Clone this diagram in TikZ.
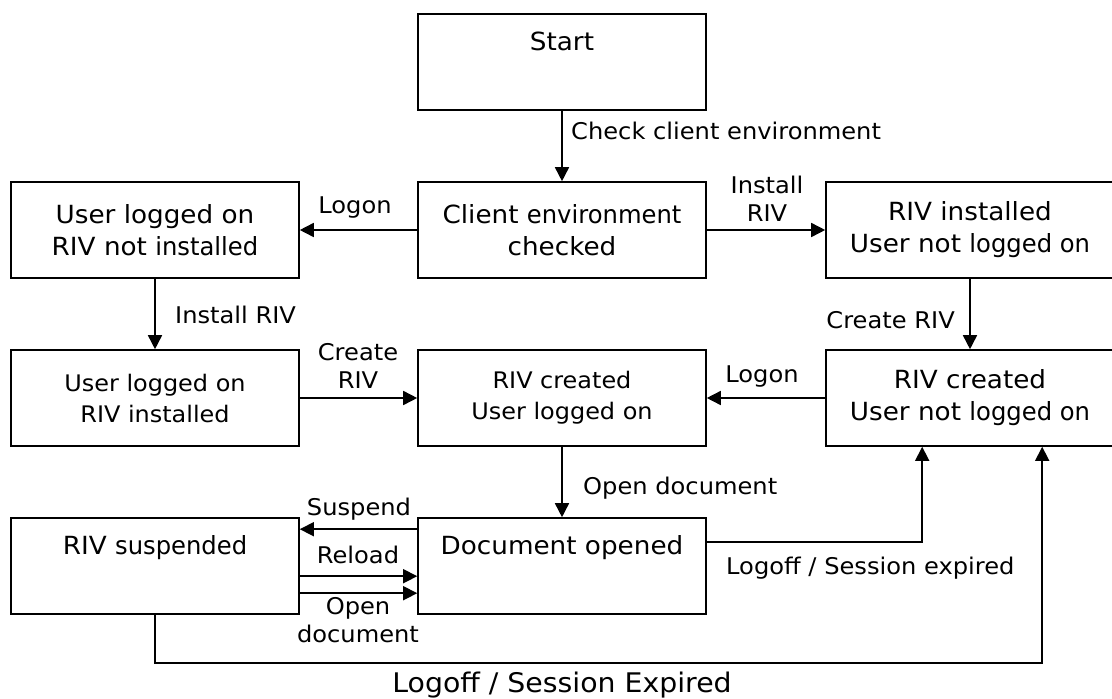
\documentclass[tikz,border=0pt]{standalone}
\usepackage{fontspec}
\setmainfont{DejaVu Sans}[FakeStretch=1.05]
\newfontfamily\narrowf{DejaVu Sans}[FakeStretch=0.97]
\usetikzlibrary{arrows.meta}

\tikzset{
  state/.style={draw, line width=1.6pt, minimum width=288pt, minimum height=96pt,
    align=center, inner sep=0pt, font=\fontsize{25}{32}\selectfont},
  smallstate/.style={state, font=\fontsize{22.8}{31}\selectfont},
  lbl/.style={inner sep=0pt, align=center, font=\fontsize{23}{28}\selectfont},
  arr/.style={line width=1.6pt, -{Triangle[length=14pt,width=14pt]}}
}

\begin{document}
\begin{tikzpicture}[x=1pt,y=-1pt]
\useasboundingbox (0,0) rectangle (1112,699);

\node[state] (start) at (562,62) {Start\\ \strut};
\node[state] (check) at (562,230) {Client {\narrowf environment}\\checked};
\node[state] (uno) at (155,230) {User logged on\\RIV not {\narrowf installed}};
\node[state] (inst) at (970,230) {RIV installed\\User not {\narrowf logged on}};

\node[smallstate] (ui) at (155,398) {User logged on\\RIV installed};
\node[smallstate] (created) at (562,398) {RIV created\\User logged on};
\node[state] (cnl) at (970,398) {RIV created\\User not {\narrowf logged on}};

\node[state] (susp) at (155,566) {RIV {\narrowf suspended}\\ \strut};
\node[state] (doc) at (562,566) {Document opened\\ \strut};

\draw[arr] (start) -- (check);
\draw[arr] (check) -- (uno);
\draw[arr] (check) -- (inst);
\draw[arr] (uno) -- (ui);
\draw[arr] (inst) -- (cnl);
\draw[arr] (ui) -- (created);
\draw[arr] (cnl) -- (created);
\draw[arr] (created) -- (doc);
\draw[arr] ([yshift=-12pt]doc.north west) -- ([yshift=-12pt]susp.north east);
\draw[arr] ([yshift=-59pt]susp.north east) -- ([yshift=-59pt]doc.north west);
\draw[arr] ([yshift=-76pt]susp.north east) -- ([yshift=-76pt]doc.north west);
\draw[arr] ([yshift=-25pt]doc.north east) -| ([xshift=97pt]cnl.south west);
\draw[arr] (susp.south) -- ++(0,48) -| ([xshift=217pt]cnl.south west);

\node[lbl,anchor=west] (lcheck) at (571,131) {Check client environment};
\node[lbl] (llogon) at (355,208) {Logon};
\node[lbl] (linst) at (767,199) {Install\\RIV};
\node[lbl,anchor=west] (linst2) at (175,315) {Install RIV};
\node[lbl,anchor=east] (lcreate) at (955,320) {Create RIV};
\node[lbl] (lcreate2) at (358,366) {Create\\RIV};
\node[lbl] (llogon2) at (762,377) {Logon};
\node[lbl,anchor=west] (lopen) at (583,488) {Open document};
\node[lbl] (lsusp) at (359,509) {Suspend};
\node[lbl] (lreload) at (358,555) {Reload};
\node[lbl] (lopen2) at (358,620) {Open\\document};
\node[lbl,anchor=west] (loff) at (726,568) {Logoff / Session expired};
\node[lbl,font=\fontsize{27}{30}\selectfont] (loff2) at (562,685) {Logoff / Session Expired};
\end{tikzpicture}
\end{document}
